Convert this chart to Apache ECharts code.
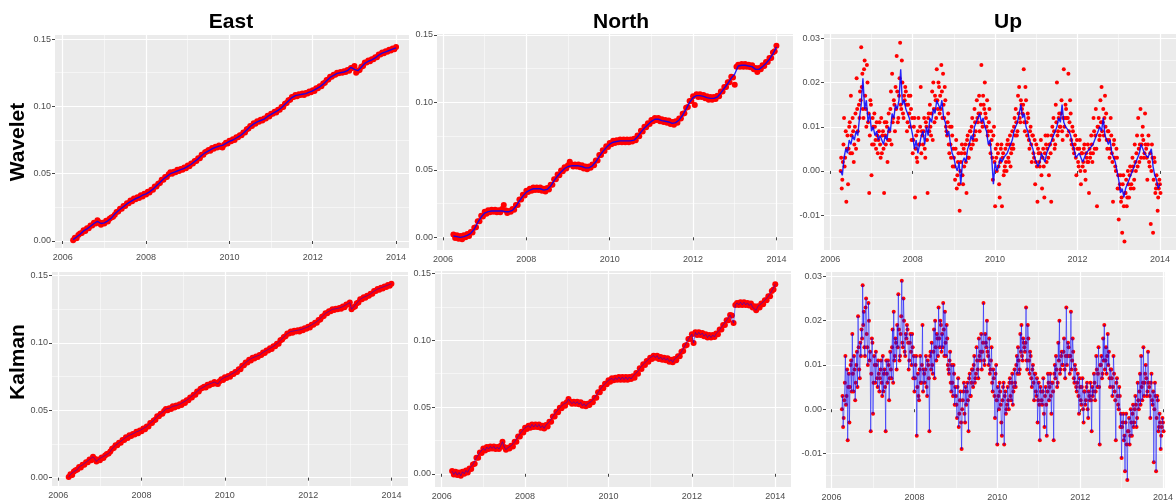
<!DOCTYPE html>
<html>
<head>
<meta charset="utf-8">
<script src="https://cdn.jsdelivr.net/npm/echarts@6/dist/echarts.min.js"></script>
<style>
  html, body { margin: 0; padding: 0; background: #ffffff; }
  #chart { width: 1176px; height: 503px; }
</style>
</head>
<body>
<div id="chart"></div>
<script>
// GNSS station displacement (mm) in East / North / Up, regular sampling from 2006.25.
const START_YEAR = 2006.25;

// observed East positions, 24 samples per year
const eastObs = [
  0.5, 2.5, 2, 4.5, 5.5, 6, 8, 7.5, 9.5, 9.5, 11.5, 11.5, 13.5, 13, 15.5, 14, 12, 13.5, 13, 15, 14.5, 16.5, 17.5, 18,
  19.5, 21.5, 22, 24, 24, 26, 26, 28, 28, 30, 29.5, 31.5, 31, 32.5, 32, 34, 33, 35, 34.5, 36.5, 36, 38, 38, 40.5,
  40.5, 42.5, 43, 45.5, 45.5, 47.5, 47.5, 49.5, 51, 50, 51.5, 51, 53, 52, 53.5, 53, 54.5, 54, 56, 55.5, 57.5, 57.5, 59.5, 59.5,
  61.5, 61.5, 64, 64, 66, 66.5, 67.5, 67, 69, 68.5, 70, 69.5, 71, 70, 69.5, 71.5, 73, 72.5, 74.5, 74, 75.5, 75, 77, 77,
  78.5, 78.5, 80.5, 80.5, 83, 83.5, 85.5, 85.5, 87.5, 87, 89, 88.5, 90, 89.5, 91, 91, 93, 92.5, 94.5, 94.5, 96, 95.5, 97.5, 97.5,
  99.5, 99.5, 102, 102.5, 104.5, 105, 107, 107, 108.5, 107.5, 109, 108.5, 109.5, 108.5, 110, 109.5, 111, 110.5, 112, 111.5, 113.5, 113.5, 115, 115,
  117, 117.5, 119.5, 120, 122, 122, 123.5, 123.5, 125, 124.5, 125.5, 125, 126, 125.5, 127, 126.5, 128.5, 128.5, 130, 125, 126.5, 127, 129.5, 130,
  132.5, 132.5, 134, 133.5, 135, 135, 136.5, 136.5, 138.5, 138.5, 140, 139.5, 141, 140.5, 142, 141.5, 143, 142.5, 144
];
// wavelet-smoothed East, 12 samples per year
const eastWavelet = [
  1, 3, 5, 7.5, 9, 11, 13, 14.5, 13, 13.5, 15, 17,
  20, 22.5, 24.5, 26.5, 28.5, 30, 31.5, 32.5, 34, 35, 36.5, 38.5,
  41, 43.5, 46, 48, 50, 51, 52, 53, 54, 55.5, 57, 59,
  61, 63.5, 65.5, 67, 68.5, 69.5, 70.5, 71, 72.5, 74, 75, 76.5,
  78, 80, 82.5, 85, 87, 88.5, 89.5, 90.5, 92.5, 94, 95.5, 97,
  99, 101.5, 104, 106.5, 108, 108.5, 109, 109.5, 110.5, 111.5, 113, 114.5,
  116.5, 119, 121.5, 123, 124.5, 125, 125.5, 126.5, 129, 127.5, 126.5, 129,
  132, 133.5, 134.5, 136, 138, 139.5, 140.5, 141.5, 142.5, 143.5
];

// observed North positions, 24 samples per year
const northObs = [
  2, -0.5, 1.5, -1, 1, -1.5, 1.5, 0, 2.5, 1, 4, 3.5, 7, 7.5, 12, 12, 16, 15.5, 19, 17.5, 20, 18.5, 20.5, 19,
  20.5, 18.5, 20, 18.5, 21, 24, 20, 18, 19.5, 19, 21, 20.5, 24, 24, 28, 28, 31.5, 31, 34.5, 33.5, 36, 34.5, 37, 35,
  37, 35, 37, 34.5, 36, 34, 36.5, 35.5, 39, 39, 43, 43, 46.5, 46, 49.5, 49, 52, 51, 53.5, 56, 54, 52.5, 54, 52.5,
  54, 52, 53.5, 51, 52.5, 50.5, 52.5, 51.5, 54, 53.5, 57, 57, 61, 61, 64.5, 64, 67.5, 67, 70, 69, 71.5, 70, 72, 70.5,
  72.5, 70.5, 72.5, 70.5, 72.5, 70.5, 72.5, 71, 73, 72, 75.5, 75, 79, 78.5, 82, 81.5, 84.5, 84, 87, 86, 88.5, 87, 88.5, 86,
  87.5, 85.5, 87, 85, 86.5, 84, 85.5, 83.5, 86, 85, 88, 88, 91.5, 92, 96, 96.5, 101, 101, 104.5, 98, 106, 104, 106, 104,
  105.5, 103, 104.5, 102, 104, 102, 104, 102.5, 105, 104.5, 108, 108, 111.5, 111.5, 115, 115, 119, 118.5, 113, 126.5, 128, 126.5, 128.5, 126.5,
  128.5, 126.5, 128, 126, 127.5, 124.5, 125.5, 122.5, 125.5, 124.5, 127.5, 127, 130, 130, 133, 133, 137, 138, 142
];
// wavelet-smoothed North, 12 samples per year
const northWavelet = [
  1, 0.5, 0, 0.5, 1.5, 3, 6, 11, 15, 18, 19, 19.5,
  19.5, 19.5, 19.5, 19, 19, 20, 23, 27, 30.5, 33.5, 35, 36,
  36, 36, 35, 35.5, 38, 42, 45.5, 48.5, 51, 52.5, 53, 53,
  53, 52.5, 51.5, 51.5, 53, 56, 60, 63.5, 66.5, 69, 70.5, 71,
  71.5, 71.5, 71.5, 71.5, 72, 74.5, 78, 81, 83.5, 86, 87.5, 87.5,
  86.5, 86, 85.5, 84.5, 85, 87, 90.5, 95, 100, 103.5, 105, 105,
  104.5, 103.5, 103, 103, 104, 107, 110.5, 114, 118, 121, 127, 127.5,
  127.5, 127, 126.5, 124.5, 124.5, 126.5, 129, 132, 136, 141
];

// observed Up positions, 36 samples per year
const upObs = [
  0, -4, 2, 12, 3, -7, 8, 5, 11, 17, 4, 9, 6, 13, 21, 9, 15, 18, 28, 22, 12, 25, 14, 24, 11, -5, 16, -1, 12, 6, 10, 5, 8, 7, 11, 3,
  4, 9, -5, 8, 11, 2, 13, 7, 18, 22, 12, 15, 19, 26, 11, 17, 29, 14, 20, 12, 16, 18, 9, 15, 13, 17, 7, 4, 10, -6, 8, 2, 12, 6, 19, 9,
  6, 12, 3, 10, -5, 13, 15, 8, 18, 20, 11, 16, 23, 14, 19, 17, 24, 12, 15, 19, 10, 8, 13, 4, 6, 10, 1, 3, -2, 7, -1, 4, -9, 2, 6, -3,
  1, 6, -5, 8, 3, 9, 5, 12, 7, 14, 9, 16, 11, 17, 13, 24, 10, 15, 20, 12, 16, 9, 14, 4, 7, -2, 10, -8, 3, 6, 1, -6, 5, -8, 4, 0,
  5, 0, 7, 2, 8, 4, 9, 5, 12, 14, 8, 17, 19, 11, 15, 13, 23, 9, 16, 8, 12, 5, 10, 2, 8, 3, -3, 6, -7, 4, 1, 7, -4, 5, -6, 8,
  2, 8, -1, 6, -7, 10, 12, 5, 15, 20, 9, 13, 10, 16, 7, 23, 12, 14, 8, 22, 11, 13, 6, 9, 4, 8, -1, 5, 1, 7, -3, 4, 2, 6, -2, 3,
  6, -5, 3, 8, 2, 12, 5, 14, -8, 10, 7, 16, 19, 11, 8, 17, 13, 5, 9, 3, 12, 4, -7, 7, 1, 5, -4, -11, -3, -7, -14, -1, -16, -5, -8, 0,
  -6, 1, -3, 3, -4, 6, 0, 8, 12, 2, 14, 6, 10, 3, 13, 5, -2, 8, 1, -12, 6, -14, 3, -5, -1, -9, -4, -3
];
// observed Up positions taken half a step later (36 per year, offset 1/72 year)
const upObsMid = [
  3, -2, 6, 1, 9, 5, -3, 10, 4, 8, 12, 2, 10, 5, 14, 7, 12, 16, 19, 14, 23, 17, 10, 20, 13, 8, 15, 6, 10, 13, 7, 11, 4, 9, 6, 12,
  8, 5, 11, 6, 10, 7, 9, 14, 6, 11, 16, 9, 14, 18, 12, 21, 15, 25, 13, 17, 19, 15, 11, 17, 10, 14, 12, 7, 12, 5, 3, 9, 6, 10, 4, 8,
  9, 5, 11, 7, 12, 9, 10, 13, 7, 14, 17, 12, 16, 20, 13, 14, 18, 22, 12, 16, 9, 11, 6, 10, 3, 8, 5, 1, 5, -4, 2, -3, 0, 4, -1, 5,
  4, 2, 7, 3, 6, 9, 10, 6, 8, 11, 7, 12, 13, 9, 15, 11, 17, 14, 13, 10, 8, 11, 6, 9, 3, 8, 2, 5, 0, 4, -3, 2, 6, 3, -1, 1,
  2, 6, 3, 6, 1, 5, 6, 10, 8, 11, 9, 13, 12, 16, 14, 15, 11, 19, 11, 13, 7, 9, 6, 8, 4, 7, 2, 1, 5, 2, 4, -1, 3, 1, 4, 6,
  5, 3, 6, 4, 8, 7, 9, 6, 11, 8, 12, 10, 13, 9, 12, 10, 15, 12, 12, 9, 16, 7, 10, 5, 6, 3, 7, 2, 5, 0, 4, 1, 5, 0, 4, 2,
  2, 5, 4, 6, 4, 9, 8, 5, 10, 12, 8, 11, 9, 14, 12, 10, 7, 9, 7, 5, 8, 2, 6, 3, 0, 3, -1, -4, -1, -6, -3, -8, -5, -2, -6, -3,
  -1, -4, 0, 1, -2, 2, 4, 1, 5, 6, 3, 8, 7, 4, 6, 3, 6, 2, 4, 0, 3, -2, 2, -4, -3, -6, -2, -5
];
// wavelet-smoothed Up, 24 samples per year
const upWavelet = [
  0, -1, 3, 5, 4, 7, 6, 8, 7, 9, 8, 12, 15, 21, 14, 16, 11, 13, 9, 10, 8, 9, 7, 8,
  7, 6, 8, 7, 10, 9, 13, 12, 15, 14, 16, 23, 15, 16, 14, 13, 12, 10, 8, 5, 7, 4, 6, 8,
  9, 6, 10, 8, 12, 11, 14, 13, 16, 15, 14, 16, 12, 11, 8, 9, 6, 4, 3, 1, 0, 2, -3, 2,
  3, 2, 5, 6, 8, 7, 10, 11, 12, 13, 11, 12, 10, 9, 6, 7, 3, -3, 2, 0, 1, 3, 2, 3,
  3, 4, 4, 6, 7, 9, 10, 11, 13, 15, 12, 13, 10, 9, 7, 6, 5, 3, 3, 1, 2, 4, 3, 2,
  4, 5, 6, 7, 8, 9, 10, 12, 11, 15, 11, 10, 10, 9, 8, 6, 5, 3, 3, 4, 3, 2, 3, 4,
  4, 5, 5, 6, 7, 8, 9, 10, 9, 12, 8, 7, 6, 7, 4, 3, 2, 0, -2, -5, -4, -6, -4, -3,
  -2, -1, 0, 1, 2, 3, 4, 6, 5, 4, 4, 3, 3, 5, 1, -1, -2, -4, -3
];

// tick labels
const yearTicks = [2006, 2008, 2010, 2012, 2014];
const horizTicks = [0, 50, 100, 150];
const upTicks = [-10, 0, 10, 20, 30];
const columnTitles = ['East', 'North', 'Up'];
const rowTitles = ['Wavelet', 'Kalman'];

// pair values with their sample epochs
function toPoints(values, perYear, offset) {
  const shift = offset || 0;
  return values.map((v, i) => [START_YEAR + shift + i / perYear, v]);
}
// two interleaved sample sets, in time order
function mergePoints(a, b) {
  return a.concat(b).sort((p, q) => p[0] - q[0]);
}

const upAll = mergePoints(toPoints(upObs, 36), toPoints(upObsMid, 36, 1 / 72));

// panel frames (pixels) and axis extents
const frames = [
  { left: 55,  top: 35,  width: 354, height: 213, x: [2005.815, 2014.31],  y: [-5.2, 153.0] },
  { left: 437, top: 34,  width: 356, height: 216, x: [2005.856, 2014.398], y: [-9.4, 150.7] },
  { left: 824, top: 34,  width: 357, height: 216, x: [2005.847, 2014.39],  y: [-17.9, 31.0] },
  { left: 52,  top: 272, width: 356, height: 214, x: [2005.849, 2014.398], y: [-6.2, 152.7] },
  { left: 435, top: 271, width: 356, height: 216, x: [2005.84, 2014.377],  y: [-9.9, 151.9] },
  { left: 826, top: 272, width: 344, height: 216, x: [2005.865, 2014.04],  y: [-17.8, 31.0] }
];

const panels = [
  { obs: toPoints(eastObs, 24),  fit: toPoints(eastWavelet, 12),  ticks: horizTicks, split: 3, size: 6, kalman: false },
  { obs: toPoints(northObs, 24), fit: toPoints(northWavelet, 12), ticks: horizTicks, split: 3, size: 6, kalman: false },
  { obs: upAll,                  fit: toPoints(upWavelet, 24),    ticks: upTicks,    split: 5, size: 4, kalman: false },
  { obs: toPoints(eastObs, 24),  fit: toPoints(eastObs, 24),      ticks: horizTicks, split: 3, size: 6, kalman: true },
  { obs: toPoints(northObs, 24), fit: toPoints(northObs, 24),     ticks: horizTicks, split: 3, size: 6, kalman: true },
  { obs: upAll,                  fit: upAll,                      ticks: upTicks,    split: 5, size: 4, kalman: true }
];

const FONT = '"Liberation Sans", Arial, Helvetica, sans-serif';
const tickLine = { color: '#444444', width: 1 };
const majorGrid = { color: '#ffffff', width: 1.2 };
const minorGrid = { color: '#ffffff', width: 0.6, opacity: 0.85 };

const grids = frames.map(f => ({
  left: f.left, top: f.top, width: f.width, height: f.height,
  show: true, backgroundColor: '#EBEBEB', borderWidth: 0, containLabel: false
}));

const xAxes = frames.map((f, i) => ({
  gridIndex: i, type: 'value', min: f.x[0], max: f.x[1], splitNumber: 5,
  axisLine: { show: false },
  axisTick: { show: true, length: 3, lineStyle: tickLine, customValues: yearTicks },
  axisLabel: {
    customValues: yearTicks, color: '#4D4D4D', fontSize: 9, fontFamily: FONT, margin: 5,
    formatter: v => String(Math.round(v))
  },
  splitLine: { show: true, lineStyle: majorGrid },
  minorTick: { show: false, splitNumber: 2 },
  minorSplitLine: { show: true, lineStyle: minorGrid }
}));

const yAxes = frames.map((f, i) => ({
  gridIndex: i, type: 'value', min: f.y[0], max: f.y[1], splitNumber: panels[i].split,
  axisLine: { show: false },
  axisTick: { show: true, length: 3, lineStyle: tickLine, customValues: panels[i].ticks },
  axisLabel: {
    customValues: panels[i].ticks, color: '#4D4D4D', fontSize: 9, fontFamily: FONT, margin: 4,
    formatter: v => (v / 1000).toFixed(2)
  },
  splitLine: { show: true, lineStyle: majorGrid },
  minorTick: { show: false, splitNumber: 2 },
  minorSplitLine: { show: true, lineStyle: minorGrid }
}));

const series = [];
panels.forEach((p, i) => {
  series.push({
    type: 'scatter', xAxisIndex: i, yAxisIndex: i,
    data: p.obs,
    symbolSize: p.size,
    itemStyle: { color: '#FF0000', opacity: 1 },
    silent: true, z: 2
  });
  series.push({
    type: 'line', xAxisIndex: i, yAxisIndex: i,
    data: p.fit,
    showSymbol: false, symbol: 'none',
    lineStyle: {
      color: '#0000FF',
      width: p.kalman ? 1 : 1.4,
      opacity: p.kalman ? 0.5 : 0.85
    },
    silent: true, z: 3
  });
});

const titleStyle = { font: 'bold 21px ' + FONT, fill: '#000000', textAlign: 'center', textVerticalAlign: 'middle' };
const graphics = [
  { type: 'text', x: 231,  y: 22.5, style: Object.assign({ text: columnTitles[0] }, titleStyle) },
  { type: 'text', x: 621,  y: 22.5, style: Object.assign({ text: columnTitles[1] }, titleStyle) },
  { type: 'text', x: 1008, y: 22.5, style: Object.assign({ text: columnTitles[2] }, titleStyle) },
  { type: 'text', x: 18.5, y: 142, rotation: Math.PI / 2, style: Object.assign({ text: rowTitles[0] }, titleStyle) },
  { type: 'text', x: 18.5, y: 362, rotation: Math.PI / 2, style: Object.assign({ text: rowTitles[1] }, titleStyle) }
];

const chart = echarts.init(document.getElementById('chart'), null, { renderer: 'canvas' });
chart.setOption({
  animation: false,
  backgroundColor: '#ffffff',
  grid: grids,
  xAxis: xAxes,
  yAxis: yAxes,
  series: series,
  graphic: graphics
});
</script>
</body>
</html>
